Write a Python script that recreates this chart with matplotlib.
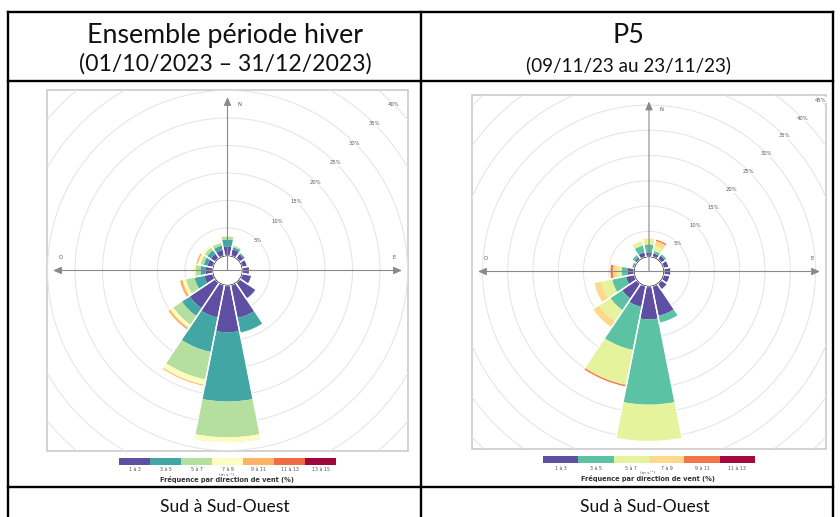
import numpy as np
import matplotlib
matplotlib.use('Agg')
import matplotlib.pyplot as plt
from matplotlib.patches import Rectangle

W, H = 840, 517

# 16 wind directions, clockwise from North
directions = ['N', 'NNE', 'NE', 'ENE', 'E', 'ESE', 'SE', 'SSE',
              'S', 'SSO', 'SO', 'OSO', 'O', 'ONO', 'NO', 'NNO']

# Ensemble période hiver : fréquence (%) par classe de vitesse
hiver_classes = ['1 à 3', '3 à 5', '5 à 7', '7 à 9', '9 à 11', '11 à 13', '13 à 15']
hiver_colors = ['#5e4fa2', '#42a6a4', '#b5df9f', '#fdfdc0', '#fdb366', '#ef6a45', '#a0073f']
hiver_1_3 = [1.6, 1.2, 0.9, 0.9, 1.2, 1.7, 3.4, 6.1, 8.5, 6.0, 5.6, 1.6, 1.3, 1.0, 1.0, 1.1]
hiver_3_5 = [1.3, 0.4, 0.3, 0.1, 0.1, 0.1, 0.2, 2.7, 12.6, 6.4, 1.7, 1.8, 0.9, 0.7, 0.8, 0.8]
hiver_5_7 = [0.6, 0.3, 0.1, 0.0, 0.0, 0.0, 0.0, 0.2, 6.5, 5.1, 1.9, 1.6, 0.9, 0.6, 0.6, 0.5]
hiver_7_9 = [0.1, 0.2, 0.0, 0.0, 0.0, 0.0, 0.0, 0.0, 0.9, 1.0, 0.7, 0.6, 0.5, 0.5, 0.4, 0.3]
hiver_9_11 = [0.0, 0.0, 0.0, 0.0, 0.0, 0.0, 0.0, 0.0, 0.1, 0.3, 0.4, 0.4, 0.1, 0.3, 0.1, 0.0]
hiver_11_13 = [0.0, 0.0, 0.0, 0.0, 0.0, 0.0, 0.0, 0.0, 0.0, 0.0, 0.1, 0.2, 0.0, 0.1, 0.0, 0.0]
hiver_13_15 = [0.0] * 16

# P5 (09/11/23 au 23/11/23)
p5_classes = ['1 à 3', '3 à 5', '5 à 7', '7 à 9', '9 à 11', '11 à 13']
p5_colors = ['#5e4fa2', '#5bc3a3', '#e4f39c', '#fed98a', '#f57548', '#a4093f']
p5_1_3 = [0.8, 0.7, 0.9, 1.0, 1.3, 1.2, 1.3, 6.0, 6.5, 4.2, 3.5, 1.7, 1.2, 0.3, 0.5, 0.9]
p5_3_5 = [1.6, 0.5, 0.5, 0.1, 0.1, 0.1, 0.2, 1.5, 16.9, 8.7, 2.8, 2.8, 1.2, 0.3, 0.7, 1.4]
p5_5_7 = [1.0, 1.0, 0.0, 0.0, 0.0, 0.0, 0.0, 0.0, 7.3, 7.0, 2.7, 2.2, 1.0, 0.0, 0.0, 0.8]
p5_7_9 = [0.3, 1.0, 0.0, 0.0, 0.0, 0.0, 0.0, 0.0, 0.0, 0.1, 1.5, 1.5, 0.8, 0.0, 0.0, 0.2]
p5_9_11 = [0.0, 0.4, 0.0, 0.0, 0.0, 0.0, 0.0, 0.0, 0.0, 0.4, 0.0, 0.0, 0.6, 0.0, 0.0, 0.0]
p5_11_13 = [0.0] * 16

hiver_rings = [5, 10, 15, 20, 25, 30, 35, 40]
p5_rings = [5, 10, 15, 20, 25, 30, 35, 40, 45]

fig = plt.figure(figsize=(W / 100, H / 100), dpi=100)
bg = fig.add_axes([0, 0, 1, 1], zorder=0)
bg.set_xlim(0, W)
bg.set_ylim(H, 0)
bg.axis('off')

# Table lines
LINE = dict(color='black', lw=1.7, solid_capstyle='projecting')
for y in (12, 81, 487):
    bg.plot([8, 833], [y, y], **LINE)
for x in (8, 421, 833):
    bg.plot([x, x], [12, H + 2], **LINE)

TXT = dict(family='Lato', color='#111111', ha='center', va='baseline')
bg.text(225, 43, 'Ensemble période hiver', fontsize=19.3, **TXT)
bg.text(225, 71, '(01/10/2023 – 31/12/2023)', fontsize=16.6, **TXT)
bg.text(628, 43, 'P5', fontsize=19.3, **TXT)
bg.text(628, 71, '(09/11/23 au 23/11/23)', fontsize=13.6, **TXT)
bg.text(225, 512, 'Sud à Sud-Ouest', fontsize=12.6, **TXT)
bg.text(645, 512, 'Sud à Sud-Ouest', fontsize=12.6, **TXT)


def draw_rose(cx, cy, half, px_pct, hole_px, series, colors, rings):
    # square frame
    bg.add_patch(Rectangle((cx - half, cy - half), 2 * half, 2 * half,
                           fill=False, edgecolor='#c6c6c6', lw=1.1))
    clip = Rectangle((cx - half, cy - half), 2 * half, 2 * half, transform=bg.transData)

    R = half * 1.45
    ax = fig.add_axes([(cx - R) / W, 1 - (cy + R) / H, 2 * R / W, 2 * R / H],
                      projection='polar', zorder=2)
    hole = hole_px / px_pct
    ax.set_theta_zero_location('N')
    ax.set_theta_direction(-1)
    ax.set_rorigin(-hole)
    ax.set_ylim(0, R / px_pct - hole)
    ax.patch.set_visible(False)
    ax.spines['polar'].set_visible(False)
    ax.set_xticks([])
    ax.set_yticks([])
    ax.grid(False)

    # grid circles, clipped by the square frame
    t = np.linspace(0, 2 * np.pi, 500)
    for r in range(5, 60, 5):
        ax.plot(t, np.full_like(t, r), color='#e3e3e3', lw=0.7, clip_path=clip, zorder=1)
    for r in rings:
        ax.text(np.deg2rad(45), r, f'{r}%', fontsize=3.8, color='#555555',
                ha='center', va='center', zorder=4,
                bbox=dict(fc='white', ec='none', pad=0.4))

    # stacked bars
    theta = np.deg2rad(np.arange(len(directions)) * 22.5)
    width = np.deg2rad(22.5)
    bottom = np.zeros(len(directions))
    for vals, col in zip(series, colors):
        vals = np.array(vals)
        ax.bar(theta, vals, width=width, bottom=bottom, color=col, linewidth=0, zorder=2)
        bottom += vals
    ax.bar(theta, bottom, width=width, bottom=0, fill=False, edgecolor='white',
           linewidth=1.0, zorder=3)

    # axes arrows
    arrow = dict(arrowstyle='-|>,head_length=0.5,head_width=0.22', color='#8a8a8a',
                 lw=0.8, shrinkA=0, shrinkB=0)
    ax.annotate('', xy=(cx, cy - half + 7), xytext=(cx, cy), xycoords=bg.transData,
                textcoords=bg.transData, arrowprops=arrow, annotation_clip=False, zorder=5)
    ax.annotate('', xy=(cx + half - 6, cy), xytext=(cx - half + 6, cy), xycoords=bg.transData,
                textcoords=bg.transData, annotation_clip=False, zorder=5,
                arrowprops=dict(arrow, arrowstyle='<|-|>,head_length=0.5,head_width=0.22'))
    lab = dict(fontsize=3.8, color='#555555', ha='center', va='center')
    bg.text(cx + 12, cy - half + 15, 'N', **lab)
    bg.text(cx - half + 14, cy - 13, 'O', **lab)
    bg.text(cx + half - 14, cy - 13, 'E', **lab)


def draw_scale(x0, y0, w, h, classes, colors, xc):
    cax = fig.add_axes([x0 / W, 1 - (y0 + h) / H, w / W, h / H], zorder=2)
    n = len(classes)
    cax.bar(range(n), [1] * n, width=1.0, color=colors, linewidth=0)
    cax.set_xlim(-0.5, n - 0.5)
    cax.set_ylim(0, 1)
    cax.axis('off')
    for i, c in enumerate(classes):
        bg.text(x0 + (i + 0.5) * w / n, y0 + h + 5, c, fontsize=3.4, color='#555555',
                ha='center', va='center')
    bg.text(xc, y0 + h + 10, '(m s⁻¹)', fontsize=3.2, color='#555555', ha='center', va='center')
    bg.text(xc, y0 + h + 15, 'Fréquence par direction de vent (%)', fontsize=4.8,
            fontweight='bold', color='#333333', ha='center', va='center')


draw_rose(227.5, 270.5, 180.5, 5.5, 15,
          [hiver_1_3, hiver_3_5, hiver_5_7, hiver_7_9, hiver_9_11, hiver_11_13, hiver_13_15],
          hiver_colors, hiver_rings)
draw_rose(649, 271.5, 177, 5.05, 15,
          [p5_1_3, p5_3_5, p5_5_7, p5_7_9, p5_9_11, p5_11_13],
          p5_colors, p5_rings)

draw_scale(119, 458, 217, 6.5, hiver_classes, hiver_colors, 227)
draw_scale(543, 456, 212, 7, p5_classes, p5_colors, 648)

fig.savefig('out.png', dpi=100)
